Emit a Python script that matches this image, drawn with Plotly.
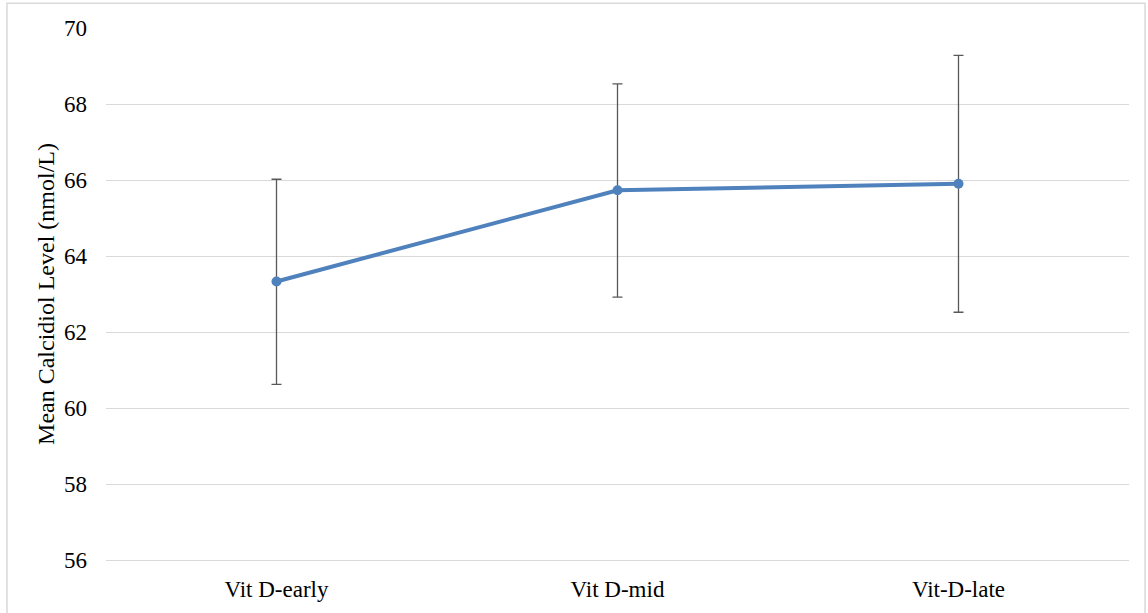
import plotly.graph_objects as go

# Mean calcidiol level by vitamin D supplementation timing, with error bars
groups = ["Vit D-early", "Vit D-mid", "Vit-D-late"]
mean_level = [63.33, 65.73, 65.90]
error_plus = [2.69, 2.80, 3.38]
error_minus = [2.71, 2.81, 3.38]
y_ticks = [56, 58, 60, 62, 64, 66, 68, 70]

serif = "Liberation Serif, Times New Roman, serif"

fig = go.Figure(
    go.Scatter(
        x=groups,
        y=mean_level,
        mode="lines+markers",
        line=dict(color="#4F81BD", width=4),
        marker=dict(color="#4F81BD", size=10),
        error_y=dict(
            type="data",
            symmetric=False,
            array=error_plus,
            arrayminus=error_minus,
            color="#595959",
            thickness=1.3,
            width=5,
        ),
        showlegend=False,
    )
)

fig.update_layout(
    width=1148,
    height=613,
    margin=dict(l=106, r=19, t=28, b=53),
    paper_bgcolor="white",
    plot_bgcolor="white",
    font=dict(family=serif, size=23, color="#000000"),
    xaxis=dict(
        type="category",
        range=[-0.5, len(groups) - 0.5],
        automargin=False,
        showgrid=False,
        showline=True,
        linecolor="#d9d9d9",
        linewidth=1,
        zeroline=False,
        ticks="",
        ticklabelstandoff=8,
        tickfont=dict(size=23),
    ),
    yaxis=dict(
        range=[56, 70],
        tickvals=y_ticks,
        automargin=False,
        showgrid=True,
        gridcolor="#d9d9d9",
        gridwidth=1,
        zeroline=False,
        showline=False,
        ticks="",
        ticklabelstandoff=18,
        tickfont=dict(size=23),
        title=dict(text="Mean Calcidiol Level (nmol/L)", font=dict(size=24), standoff=2),
    ),
    shapes=[
        dict(
            type="rect",
            xref="paper",
            yref="paper",
            x0=-0.0968,
            x1=1.0157,
            y0=-0.11,
            y1=1.0464,
            line=dict(color="#d9d9d9", width=1.5),
            fillcolor="rgba(0,0,0,0)",
            layer="below",
        )
    ],
)

fig.write_html("out.html")
